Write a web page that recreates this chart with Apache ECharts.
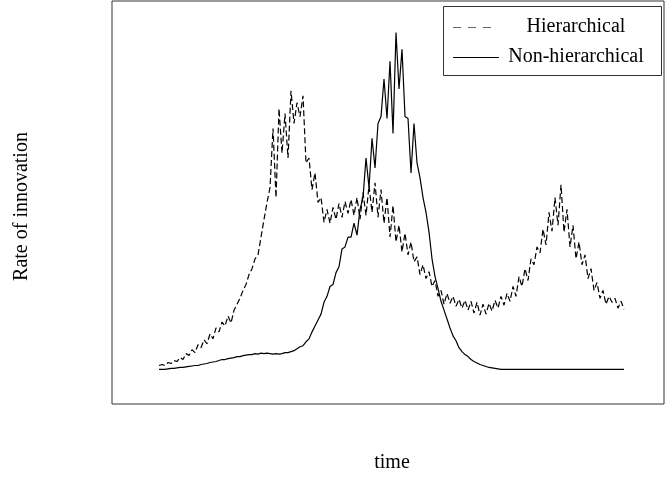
<!DOCTYPE html>
<html>
<head>
<meta charset="utf-8">
<script src="https://cdn.jsdelivr.net/npm/echarts@6/dist/echarts.min.js"></script>
<style>
  html, body { margin: 0; padding: 0; background: #fff; }
  #chart { width: 666px; height: 478px; }
</style>
</head>
<body>
<div id="chart"></div>
<script>
// rate of innovation per time step (arbitrary units)
const hierarchical = [
  39, 40, 39, 42, 41, 44, 43, 47, 45, 51,
  49, 55, 52, 60, 57, 65, 61, 71, 66, 77,
  73, 83, 79, 89, 82, 95, 101, 107, 115, 121,
  131, 137, 147, 151, 169, 187, 204, 219, 279, 209,
  299, 254, 294, 249, 317, 284, 305, 291, 312, 244,
  249, 217, 234, 204, 209, 184, 197, 183, 199, 187,
  203, 189, 205, 193, 207, 191, 209, 187, 214, 191,
  221, 194, 224, 189, 217, 183, 209, 169, 201, 164,
  181, 154, 173, 151, 164, 144, 149, 131, 141, 127,
  134, 119, 125, 109, 115, 101, 112, 102, 109, 99,
  106, 97, 105, 95, 104, 92, 103, 90, 101, 91,
  102, 94, 105, 97, 109, 100, 112, 104, 119, 109,
  129, 119, 137, 125, 147, 141, 159, 153, 177, 161,
  194, 175, 209, 181, 222, 174, 197, 159, 181, 147,
  164, 141, 151, 127, 137, 115, 123, 107, 115, 101,
  109, 103, 107, 97, 104, 96
];

const nonHierarchical = [
  35, 35, 35, 35.5, 36, 36, 36.5, 37, 37, 37.5,
  38, 38.5, 39, 39, 40, 40.5, 41, 42, 42.5, 43,
  44, 45, 45, 46, 46.5, 47, 48, 48, 49, 49.5,
  50, 50, 51, 50.5, 51.5, 51, 51.5, 51, 50.5, 51,
  50.5, 51, 52, 52, 53, 54, 56, 58, 59, 63,
  66, 73, 79, 85, 91, 103, 109, 119, 121, 133,
  139, 157, 159, 169, 169, 183, 171, 197, 209, 249,
  219, 269, 239, 284, 291, 329, 289, 347, 274, 376,
  319, 359, 291, 289, 234, 284, 244, 229, 209, 194,
  174, 147, 129, 117, 104, 95, 86, 77, 69, 64,
  57, 53, 50, 48, 45, 43, 41.5, 40, 39, 38,
  37, 36.5, 36, 35.5, 35, 35, 35, 35, 35, 35,
  35, 35, 35, 35, 35, 35, 35, 35, 35, 35,
  35, 35, 35, 35, 35, 35, 35, 35, 35, 35,
  35, 35, 35, 35, 35, 35, 35, 35, 35, 35,
  35, 35, 35, 35, 35, 35
];

const seriesNames = ['Hierarchical', 'Non-hierarchical'];
const FONT = '"Liberation Serif", "Times New Roman", serif';

function toPoints(values) {
  return values.map((v, i) => [i, v]);
}

function renderChart() {
  const el = document.getElementById('chart');
  if (typeof echarts === 'undefined') {
    console.error('ECharts library not loaded');
    return;
  }
  const chart = echarts.init(el, null, { renderer: 'canvas' });

  chart.setOption({
    animation: false,
    backgroundColor: '#fff',
    grid: {
      left: 112, right: 2, top: 1, bottom: 69,
      show: true, borderColor: '#333', borderWidth: 1
    },
    xAxis: {
      type: 'value',
      min: -15.67, max: 168.33,
      name: 'time',
      nameLocation: 'middle',
      nameGap: 49,
      nameTextStyle: { fontFamily: FONT, fontSize: 20, color: '#000', padding: [0, 0, 0, 8] },
      axisLine: { show: false },
      axisTick: { show: false },
      axisLabel: { show: false },
      splitLine: { show: false }
    },
    yAxis: {
      type: 'value',
      min: 0, max: 408,
      name: 'Rate of innovation',
      nameLocation: 'middle',
      nameGap: 80,
      nameTextStyle: { fontFamily: FONT, fontSize: 20, color: '#000', padding: [0, 8, 0, 0] },
      axisLine: { show: false },
      axisTick: { show: false },
      axisLabel: { show: false },
      splitLine: { show: false }
    },
    series: [
      {
        name: seriesNames[0],
        type: 'line',
        data: toPoints(hierarchical),
        showSymbol: false,
        lineStyle: { color: '#000', width: 1.2, type: [6, 3] }
      },
      {
        name: seriesNames[1],
        type: 'line',
        data: toPoints(nonHierarchical),
        showSymbol: false,
        lineStyle: { color: '#000', width: 1.2 }
      }
    ],
    // legend drawn by hand so the labels can be centred like the original
    graphic: [
      {
        type: 'rect', z: 100,
        shape: { x: 443.5, y: 6.5, width: 218, height: 69 },
        style: { fill: '#fff', stroke: '#333', lineWidth: 1 }
      },
      {
        type: 'line', z: 101,
        shape: { x1: 453, y1: 27.5, x2: 493, y2: 27.5 },
        style: { stroke: '#666', lineWidth: 1, lineDash: [8, 7] }
      },
      {
        type: 'line', z: 101,
        shape: { x1: 453, y1: 57.5, x2: 499, y2: 57.5 },
        style: { stroke: '#000', lineWidth: 1 }
      },
      {
        type: 'text', z: 101, x: 576, y: 27,
        style: { text: seriesNames[0], font: '20px ' + FONT, fill: '#000', align: 'center', verticalAlign: 'middle' }
      },
      {
        type: 'text', z: 101, x: 576, y: 57,
        style: { text: seriesNames[1], font: '20px ' + FONT, fill: '#000', align: 'center', verticalAlign: 'middle' }
      }
    ]
  });
  return chart;
}

renderChart();
</script>
</body>
</html>
